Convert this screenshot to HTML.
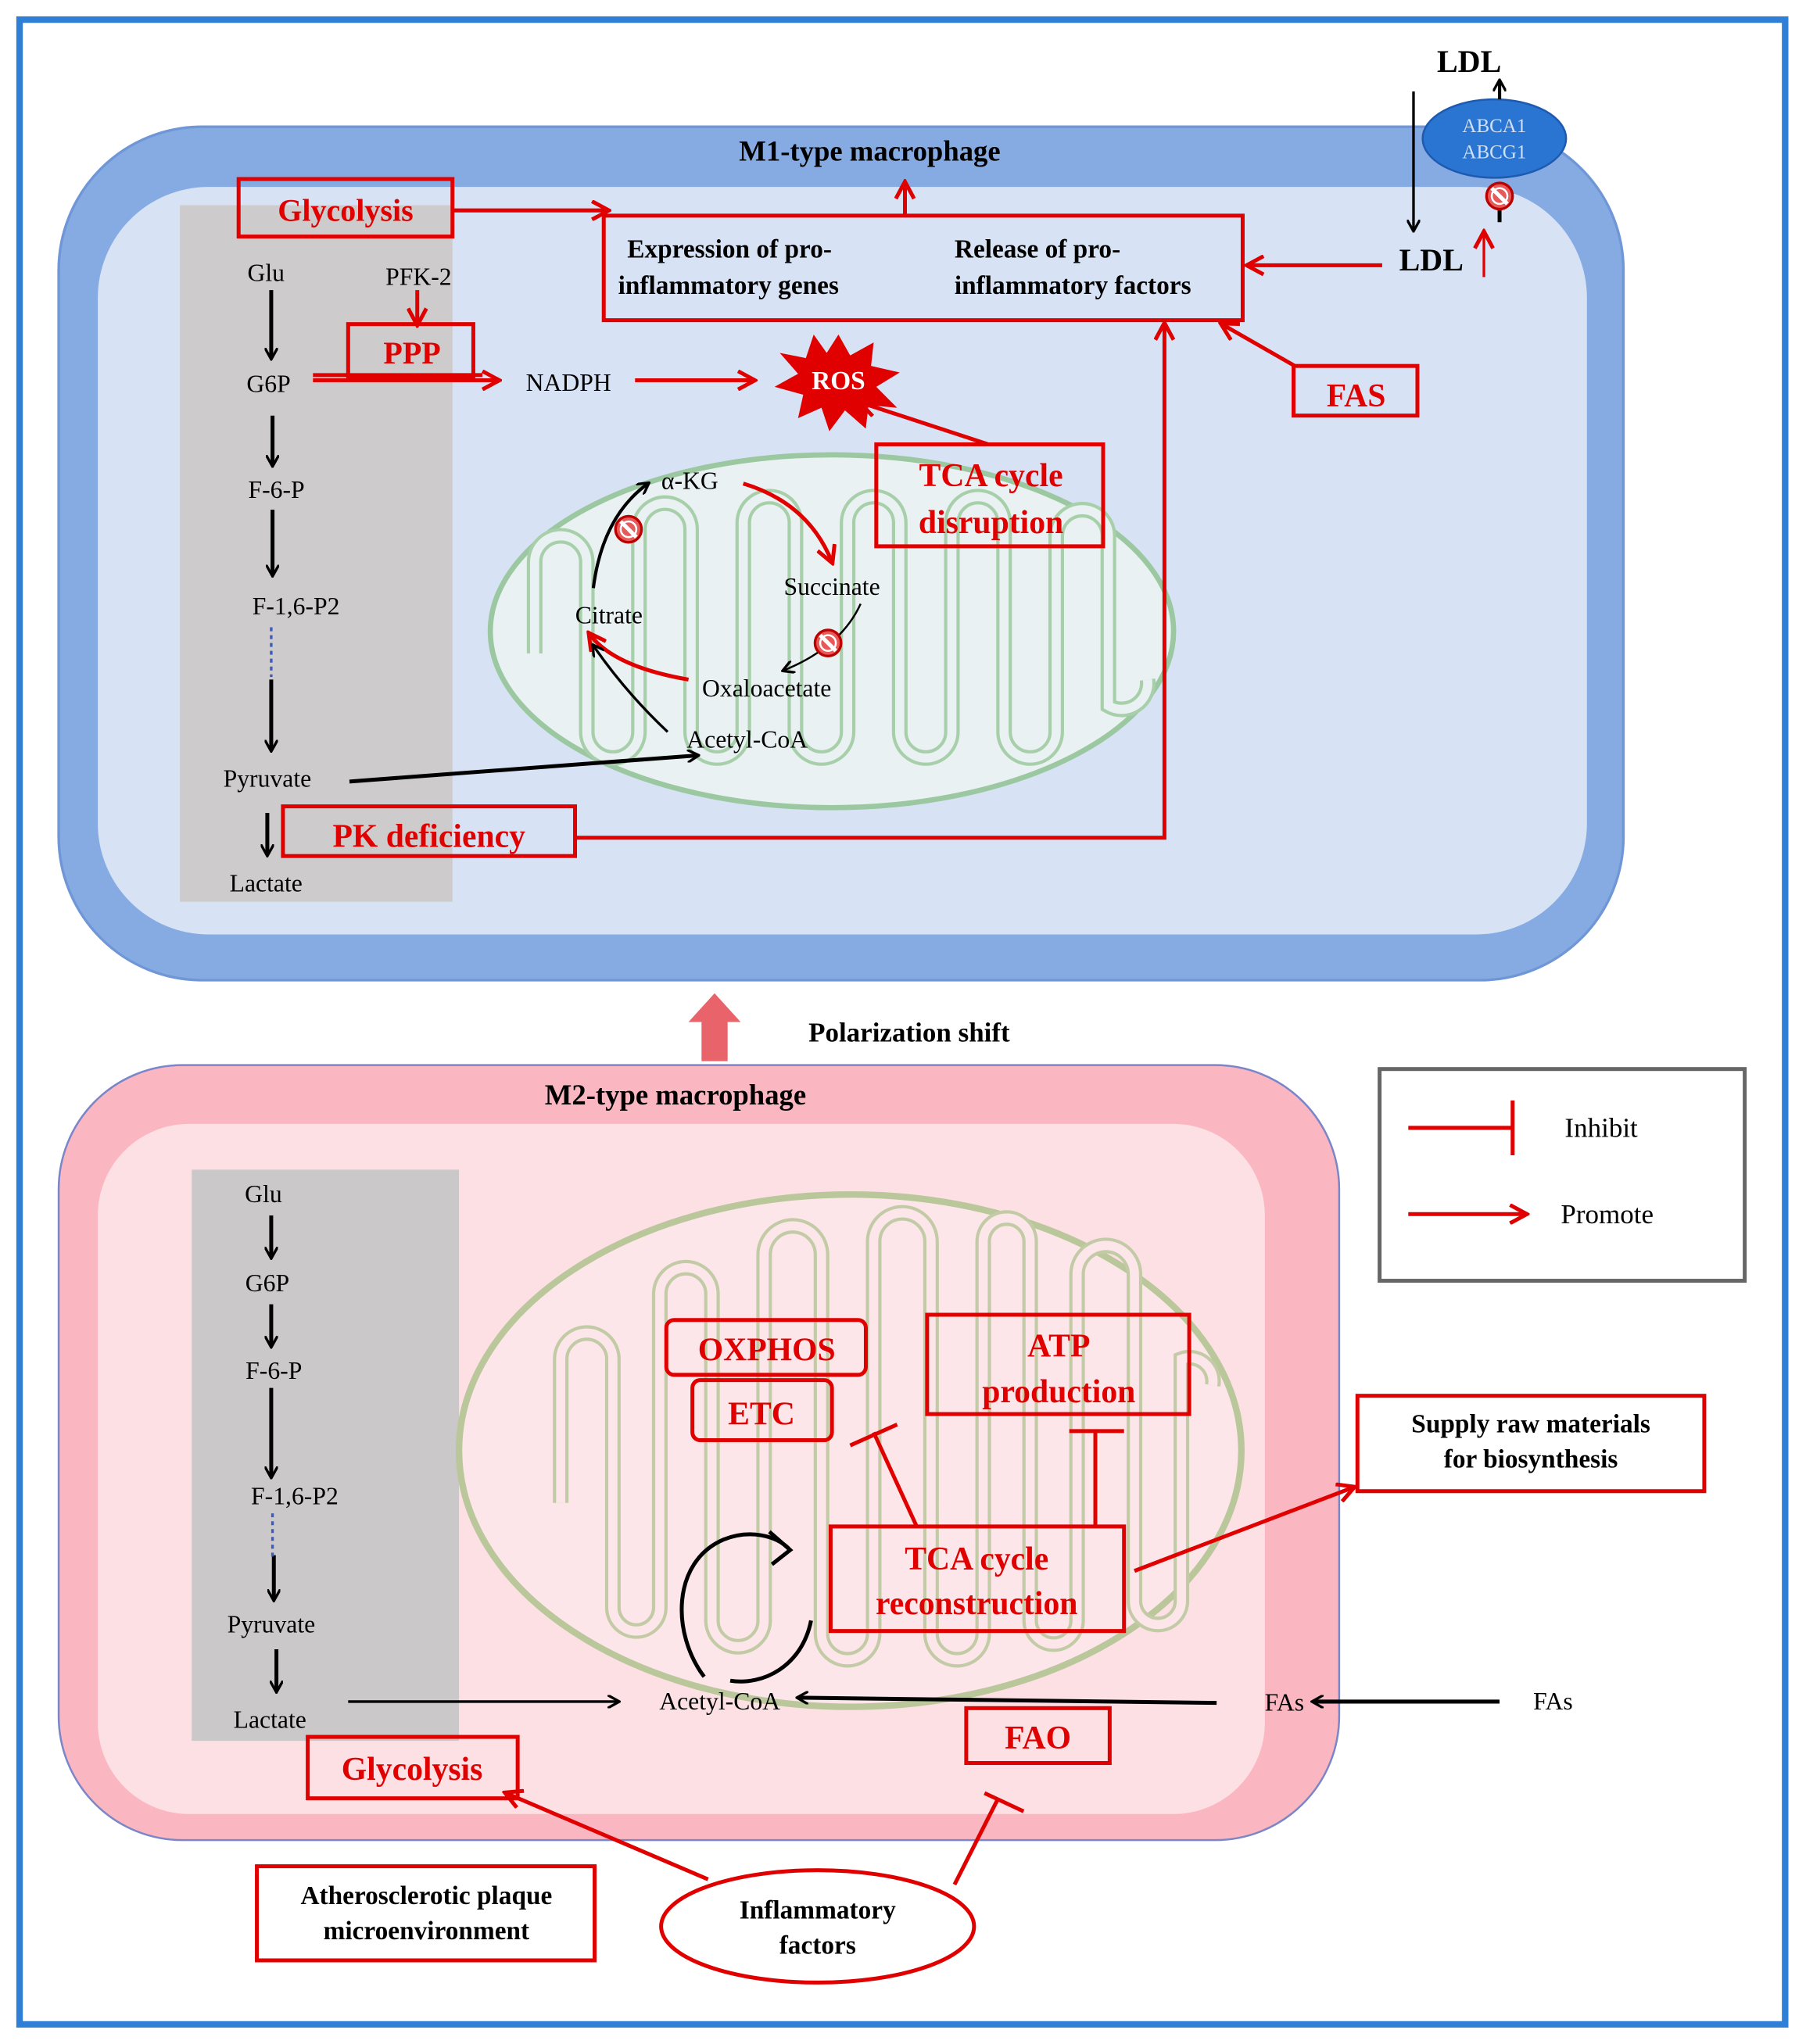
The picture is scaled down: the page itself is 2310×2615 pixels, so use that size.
<!DOCTYPE html>
<html><head><meta charset="utf-8"><style>html,body{margin:0;padding:0;background:#fff}svg{display:block}text{font-family:"Liberation Serif",serif}</style></head>
<body>
<svg width="2310" height="2615" viewBox="0 0 1385 1564" preserveAspectRatio="none" xmlns="http://www.w3.org/2000/svg">
<defs>
<marker id="ab" markerWidth="10" markerHeight="10" refX="8" refY="5" orient="auto" markerUnits="userSpaceOnUse"><path d="M0,0 L9,5 L0,10" fill="none" stroke="#000" stroke-width="2"/></marker>
<marker id="ar" markerWidth="16" markerHeight="16" refX="13" refY="8" orient="auto" markerUnits="userSpaceOnUse"><path d="M1,1 L14,8 L1,15" fill="none" stroke="#e00000" stroke-width="3"/></marker>
<g id="no"><circle r="10" fill="#e85a5a" stroke="#b00" stroke-width="2"/><line x1="-6" y1="-6" x2="6" y2="6" stroke="#fff" stroke-width="3"/><circle r="6" fill="none" stroke="#fff" stroke-width="1.5"/></g>
</defs>
<rect x="15" y="15" width="1354" height="1534" fill="#fff" stroke="#2f7fd6" stroke-width="5"/>

<!-- M1 cell -->
<rect x="45" y="97" width="1200" height="653" rx="110" fill="#86abe2" stroke="#6f96d6" stroke-width="2"/>
<rect x="75" y="143" width="1142" height="572" rx="85" fill="#d7e3f5"/>
<rect x="138" y="157" width="209" height="533" fill="#cdcbcb"/>
<text x="667" y="123" font-size="22" font-weight="bold" text-anchor="middle">M1-type macrophage</text>

<!-- M1 mitochondrion -->
<ellipse cx="638" cy="483" rx="262" ry="135" fill="#e9f1f2" stroke="#9bc8a0" stroke-width="4"/>
<path d="M410,500 V430 A20,20 0 0 1 450,430 V560 A20,20 0 0 0 490,560 V405 A20,20 0 0 1 530,405 V560 A20,20 0 0 0 570,560 V400 A20,20 0 0 1 610,400 V560 A20,20 0 0 0 650,560 V400 A20,20 0 0 1 690,400 V560 A20,20 0 0 0 730,560 V400 A20,20 0 0 1 770,400 V560 A20,20 0 0 0 810,560 V410 A20,20 0 0 1 850,410 V540 A20,20 0 0 0 880,520" fill="none" stroke="#a7cfaa" stroke-width="12"/>
<path d="M410,500 V430 A20,20 0 0 1 450,430 V560 A20,20 0 0 0 490,560 V405 A20,20 0 0 1 530,405 V560 A20,20 0 0 0 570,560 V400 A20,20 0 0 1 610,400 V560 A20,20 0 0 0 650,560 V400 A20,20 0 0 1 690,400 V560 A20,20 0 0 0 730,560 V400 A20,20 0 0 1 770,400 V560 A20,20 0 0 0 810,560 V410 A20,20 0 0 1 850,410 V540 A20,20 0 0 0 880,520" fill="none" stroke="#e9f1f2" stroke-width="7"/>

<!-- glycolysis column M1 -->
<g font-size="19" text-anchor="middle">
<text x="204" y="215">Glu</text>
<text x="206" y="300">G6P</text>
<text x="212" y="381">F-6-P</text>
<text x="227" y="470">F-1,6-P2</text>
<text x="205" y="602">Pyruvate</text>
<text x="204" y="682">Lactate</text>
<text x="321" y="218">PFK-2</text>
<text x="436" y="299">NADPH</text>
</g>
<g stroke="#000" stroke-width="3" marker-end="url(#ab)">
<line x1="208" y1="222" x2="208" y2="274"/>
<line x1="209" y1="318" x2="209" y2="356"/>
<line x1="209" y1="390" x2="209" y2="440"/>
<line x1="208" y1="520" x2="208" y2="574"/>
<line x1="205" y1="622" x2="205" y2="654"/>
<line x1="268" y1="598" x2="535" y2="578"/>
</g>
<line x1="208" y1="480" x2="208" y2="518" stroke="#3a5bbf" stroke-width="2" stroke-dasharray="3,3"/>

<!-- red boxes M1 -->
<g fill="none" stroke="#e00000" stroke-width="3">
<rect x="183" y="137" width="164" height="44"/>
<rect x="463" y="165" width="490" height="80"/>
<rect x="267" y="248" width="96" height="40"/>
<rect x="672" y="340" width="174" height="78"/>
<rect x="992" y="280" width="95" height="38"/>
<rect x="217" y="617" width="224" height="38"/>
</g>
<g fill="#e00000" font-weight="bold" text-anchor="middle">
<text x="265" y="169" font-size="24">Glycolysis</text>
<text x="316" y="278" font-size="24">PPP</text>
<text x="760" y="372" font-size="25">TCA cycle</text>
<text x="760" y="408" font-size="25">disruption</text>
<text x="1040" y="311" font-size="25">FAS</text>
<text x="329" y="648" font-size="25">PK deficiency</text>
</g>
<g font-size="20" font-weight="bold">
<text x="481" y="197">Expression of pro-</text>
<text x="474" y="225">inflammatory genes</text>
<text x="732" y="197">Release of pro-</text>
<text x="732" y="225">inflammatory factors</text>
<text x="1073" y="207" font-size="24">LDL</text>
<text x="1102" y="55" font-size="24">LDL</text>
</g>
<!-- red arrows M1 -->
<g stroke="#e00000" stroke-width="3" fill="none" marker-end="url(#ar)">
<line x1="347" y1="161" x2="466" y2="161"/>
<line x1="694" y1="165" x2="694" y2="140"/>
<line x1="320" y1="222" x2="320" y2="248"/>
<line x1="240" y1="291" x2="382" y2="291"/>
<line x1="487" y1="291" x2="578" y2="291"/>
<line x1="1060" y1="203" x2="957" y2="203"/>
<line x1="993" y1="280" x2="937" y2="248"/>
<line x1="758" y1="340" x2="660" y2="308"/>
<polyline points="441,641 893,641 893,248"/>
<line x1="1138" y1="212" x2="1138" y2="178" stroke-width="2"/>
<path d="M570,370 Q620,385 638,430"/>
<path d="M528,520 Q470,510 452,485"/>
</g>
<line x1="240" y1="287" x2="370" y2="287" stroke="#e00000" stroke-width="3"/>
<!-- ROS -->
<polygon points="643,256 652,272 670,262 668,280 690,285 672,296 688,312 666,310 664,328 648,314 636,330 630,312 612,320 616,302 594,296 612,286 598,270 618,274 624,256 634,270" fill="#e00000"/>
<text x="643" y="298" font-size="20" font-weight="bold" fill="#fff" text-anchor="middle">ROS</text>
<!-- TCA labels M1 -->
<g font-size="19" text-anchor="middle">
<text x="529" y="374">α-KG</text>
<text x="638" y="455">Succinate</text>
<text x="467" y="477">Citrate</text>
<text x="588" y="533">Oxaloacetate</text>
<text x="573" y="572">Acetyl-CoA</text>
</g>
<g stroke="#000" stroke-width="2.5" fill="none" marker-end="url(#ab)">
<path d="M455,450 Q462,395 497,370"/>
<path d="M512,560 Q480,530 455,494" stroke-width="2"/>
<path d="M660,462 Q645,495 601,513" stroke-width="1.5"/>
</g>
<use href="#no" x="482" y="405"/>
<use href="#no" x="635" y="492"/>
<!-- ABCA1 -->
<ellipse cx="1146" cy="106" rx="55" ry="30" fill="#2a74d2" stroke="#1d5bb0" stroke-width="1.5"/>
<text x="1146" y="101" font-size="15" fill="#cfe0f7" text-anchor="middle">ABCA1</text>
<text x="1146" y="121" font-size="15" fill="#cfe0f7" text-anchor="middle">ABCG1</text>
<line x1="1150" y1="76" x2="1150" y2="62" stroke="#000" stroke-width="2.5" marker-end="url(#ab)"/>
<line x1="1084" y1="70" x2="1084" y2="176" stroke="#000" stroke-width="2" marker-end="url(#ab)"/>
<line x1="1150" y1="150" x2="1150" y2="170" stroke="#000" stroke-width="3"/>
<use href="#no" x="1150" y="150"/>

<!-- Polarization shift -->
<polygon points="548,760 568,782 558,782 558,812 538,812 538,782 528,782" fill="#e9636b"/>
<text x="620" y="797" font-size="21" font-weight="bold">Polarization shift</text>

<!-- M2 cell -->
<rect x="45" y="815" width="982" height="593" rx="95" fill="#fbb7c1" stroke="#7a86c8" stroke-width="1.5"/>
<rect x="75" y="860" width="895" height="528" rx="70" fill="#fde0e4"/>
<rect x="147" y="895" width="205" height="437" fill="#cbc8c9"/>
<text x="518" y="845" font-size="22" font-weight="bold" text-anchor="middle">M2-type macrophage</text>
<ellipse cx="652" cy="1110" rx="300" ry="196" fill="#fde6e9" stroke="#b9c79b" stroke-width="5"/>
<path d="M430,1150 V1040 A20,20 0 0 1 470,1040 V1230 A18,18 0 0 0 506,1230 V990 A20,20 0 0 1 546,990 V1240 A20,20 0 0 0 586,1240 V960 A22,22 0 0 1 630,960 V1250 A20,20 0 0 0 670,1250 V950 A22,22 0 0 1 714,950 V1250 A20,20 0 0 0 754,1250 V950 A18,18 0 0 1 790,950 V1240 A18,18 0 0 0 826,1240 V975 A22,22 0 0 1 870,975 V1225 A18,18 0 0 0 906,1225 V1040 A18,18 0 0 1 930,1060" fill="none" stroke="#c3cba6" stroke-width="12"/>
<path d="M430,1150 V1040 A20,20 0 0 1 470,1040 V1230 A18,18 0 0 0 506,1230 V990 A20,20 0 0 1 546,990 V1240 A20,20 0 0 0 586,1240 V960 A22,22 0 0 1 630,960 V1250 A20,20 0 0 0 670,1250 V950 A22,22 0 0 1 714,950 V1250 A20,20 0 0 0 754,1250 V950 A18,18 0 0 1 790,950 V1240 A18,18 0 0 0 826,1240 V975 A22,22 0 0 1 870,975 V1225 A18,18 0 0 0 906,1225 V1040 A18,18 0 0 1 930,1060" fill="none" stroke="#fde6e9" stroke-width="7"/>

<g font-size="19" text-anchor="middle">
<text x="202" y="920">Glu</text>
<text x="205" y="988">G6P</text>
<text x="210" y="1055">F-6-P</text>
<text x="226" y="1151">F-1,6-P2</text>
<text x="208" y="1249">Pyruvate</text>
<text x="207" y="1322">Lactate</text>
<text x="552" y="1308">Acetyl-CoA</text>
<text x="985" y="1309">FAs</text>
<text x="1191" y="1308">FAs</text>
</g>
<g stroke="#000" stroke-width="3" marker-end="url(#ab)">
<line x1="208" y1="930" x2="208" y2="962"/>
<line x1="208" y1="998" x2="208" y2="1030"/>
<line x1="208" y1="1062" x2="208" y2="1130"/>
<line x1="210" y1="1190" x2="210" y2="1224"/>
<line x1="212" y1="1262" x2="212" y2="1294"/>
<line x1="267" y1="1302" x2="474" y2="1302" stroke-width="2"/>
<line x1="933" y1="1303" x2="612" y2="1299"/>
<line x1="1150" y1="1302" x2="1007" y2="1302"/>
</g>
<line x1="209" y1="1158" x2="209" y2="1192" stroke="#3a5bbf" stroke-width="2" stroke-dasharray="3,3"/>
<path d="M540,1283 C515,1250 515,1195 555,1178 C575,1170 595,1175 605,1185" fill="none" stroke="#000" stroke-width="3"/>
<path d="M590,1172 L606,1186 L592,1197" fill="none" stroke="#000" stroke-width="3"/>
<path d="M622,1240 C615,1275 585,1290 560,1286" fill="none" stroke="#000" stroke-width="3"/>

<!-- M2 red boxes -->
<g fill="none" stroke="#e00000" stroke-width="3">
<rect x="511" y="1010" width="153" height="42" rx="6"/>
<rect x="531" y="1056" width="107" height="46" rx="6"/>
<rect x="711" y="1006" width="201" height="76"/>
<rect x="637" y="1168" width="225" height="80"/>
<rect x="741" y="1307" width="110" height="42"/>
<rect x="236" y="1329" width="161" height="47"/>
<rect x="1041" y="1068" width="266" height="73"/>
<rect x="197" y="1428" width="259" height="72"/>
<ellipse cx="627" cy="1474" rx="120" ry="43"/>
</g>
<g fill="#e00000" font-weight="bold" text-anchor="middle" font-size="25">
<text x="588" y="1041">OXPHOS</text>
<text x="584" y="1090">ETC</text>
<text x="812" y="1038">ATP</text>
<text x="812" y="1073">production</text>
<text x="749" y="1201">TCA cycle</text>
<text x="749" y="1235">reconstruction</text>
<text x="796" y="1338">FAO</text>
<text x="316" y="1362">Glycolysis</text>
</g>
<g font-weight="bold" text-anchor="middle" font-size="20">
<text x="1174" y="1096">Supply raw materials</text>
<text x="1174" y="1123">for biosynthesis</text>
<text x="327" y="1457">Atherosclerotic plaque</text>
<text x="327" y="1484">microenvironment</text>
<text x="627" y="1468">Inflammatory</text>
<text x="627" y="1495">factors</text>
</g>
<!-- M2 red connectors -->
<g stroke="#e00000" stroke-width="3" fill="none">
<line x1="703" y1="1168" x2="670" y2="1096"/>
<line x1="652" y1="1106" x2="688" y2="1090"/>
<line x1="840" y1="1168" x2="840" y2="1095"/>
<line x1="820" y1="1095" x2="862" y2="1095"/>
<line x1="870" y1="1202" x2="1038" y2="1138" marker-end="url(#ar)"/>
<line x1="543" y1="1438" x2="388" y2="1372" marker-end="url(#ar)"/>
<line x1="732" y1="1442" x2="765" y2="1377"/>
<line x1="755" y1="1372" x2="785" y2="1386"/>
</g>

<!-- Legend -->
<rect x="1058" y="818" width="280" height="162" fill="#fff" stroke="#666" stroke-width="3"/>
<line x1="1080" y1="863" x2="1160" y2="863" stroke="#e00000" stroke-width="3"/>
<line x1="1160" y1="842" x2="1160" y2="884" stroke="#e00000" stroke-width="3"/>
<line x1="1080" y1="929" x2="1170" y2="929" stroke="#e00000" stroke-width="3" marker-end="url(#ar)"/>
<text x="1200" y="870" font-size="21">Inhibit</text>
<text x="1197" y="936" font-size="21">Promote</text>
</svg>
</body></html>
